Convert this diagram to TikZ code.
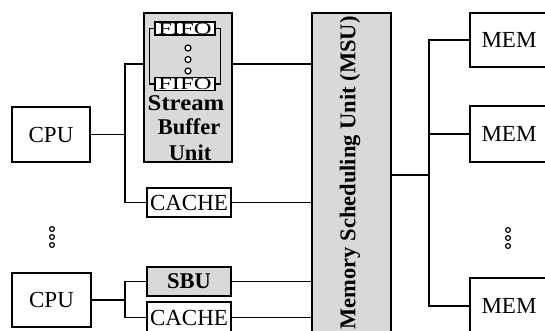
\documentclass[tikz,border=0pt]{standalone}
\usepackage{fontspec}
\usepackage{graphicx}
\setmainfont{Liberation Serif}
\begin{document}
\begin{tikzpicture}[x=1pt,y=-1pt,
  line width=1.3pt,
  txt/.style={font=\fontsize{23}{25}\selectfont},
  btxt/.style={font=\fontsize{22.5}{25}\selectfont\bfseries},
  fifotxt/.style={font=\fontsize{17}{17}\selectfont},
  plainbox/.style={draw,line width=1.3pt,fill=white,inner sep=0pt,txt},
  shadebox/.style={draw,line width=2.3pt,fill=black!15,inner sep=0pt,btxt},
  label/.style={btxt,inner sep=0pt},
  fifobox/.style={draw,line width=1.2pt,fill=white,inner sep=0pt,minimum width=60pt,minimum height=13pt,fifotxt},
  dotc/.style={draw,line width=1.2pt,fill=white}
]
\useasboundingbox (0,0) rectangle (545,330);
\clip (0,0) rectangle (545,330);

% CPUs
\node[plainbox,minimum width=78pt,minimum height=55pt] (cpu1) at (51,134.5) {CPU};
\node[plainbox,minimum width=79pt,minimum height=54pt] (cpu2) at (51.5,300) {CPU};

% big stream buffer unit
\node[shadebox,minimum width=88pt,minimum height=149pt] (sbu) at (188,87.5) {};
\node[fifobox] (fifo1) at (185,28.5) {\raisebox{-0.5pt}{\scalebox{1.45}[1]{FIFO}}};
\node[fifobox] (fifo2) at (185,84) {\raisebox{-0.5pt}{\scalebox{1.45}[1]{FIFO}}};
\draw (fifo1.west) -- ++(-5,0) |- (fifo2.west);
\draw (fifo1.east) -- ++(5,0) |- (fifo2.east);
\foreach \yy in {48,59.5,71} \draw[dotc] (188,\yy) circle (3);
\node[label,anchor=base] (st) at (186,110) {\scalebox{1.1}[1]{Stream}};
\node[label,anchor=base] (bu) at (189,134) {Buffer};
\node[label,anchor=base] (un) at (190,160) {Unit};

% caches and small SBU
\node[plainbox,minimum width=84pt,minimum height=29pt] (cache1) at (189,202.5) {CACHE};
\node[shadebox,minimum width=84pt,minimum height=29pt] (sbu2) at (189,281.5) {SBU};
\node[plainbox,minimum width=84pt,minimum height=31pt] (cache2) at (189,317.5) {CACHE};

% MSU
\node[shadebox,minimum width=79pt,minimum height=332pt] (msu) at (351.5,179) {};
\node[label,rotate=90] (msul) at (350,173) {Memory Scheduling Unit (MSU)};

% MEMs
\node[plainbox,minimum width=78pt,minimum height=54pt] (mem1) at (509,40) {MEM};
\node[plainbox,minimum width=78pt,minimum height=56pt] (mem2) at (509,134) {MEM};
\node[plainbox,minimum width=78pt,minimum height=56pt] (mem3) at (509,306) {MEM};

% ellipses
\foreach \yy in {229,237,245} \draw[dotc,line width=1.2pt] (52,\yy) circle (2.4);
\foreach \yy in {230,238,246} \draw[dotc,line width=1.2pt] (508,\yy) circle (2.4);

% connectors, upper CPU
\coordinate (j1) at (125,64);
\draw (j1 -| sbu.west) -- (j1) |- (cache1.west);
\draw (cpu1.east) -- (cpu1.east -| j1);
\draw (j1 -| sbu.east) -- (j1 -| msu.west);
\draw (cache1.east) -- (cache1.east -| msu.west);

% lower CPU
\coordinate (j2) at (125,300);
\draw (sbu2.west) -| (j2) |- (cache2.west);
\draw (cpu2.east) -- (j2);
\draw (sbu2.east) -- (sbu2.east -| msu.west);
\draw (cache2.east) -- (cache2.east -| msu.west);

% memory bus
\coordinate (bus) at (429,175);
\draw (bus -| msu.east) -- (bus);
\draw (mem1.west) -| (bus) |- (mem3.west);
\draw (mem2.west) -- (mem2.west -| bus);
\end{tikzpicture}
\end{document}
